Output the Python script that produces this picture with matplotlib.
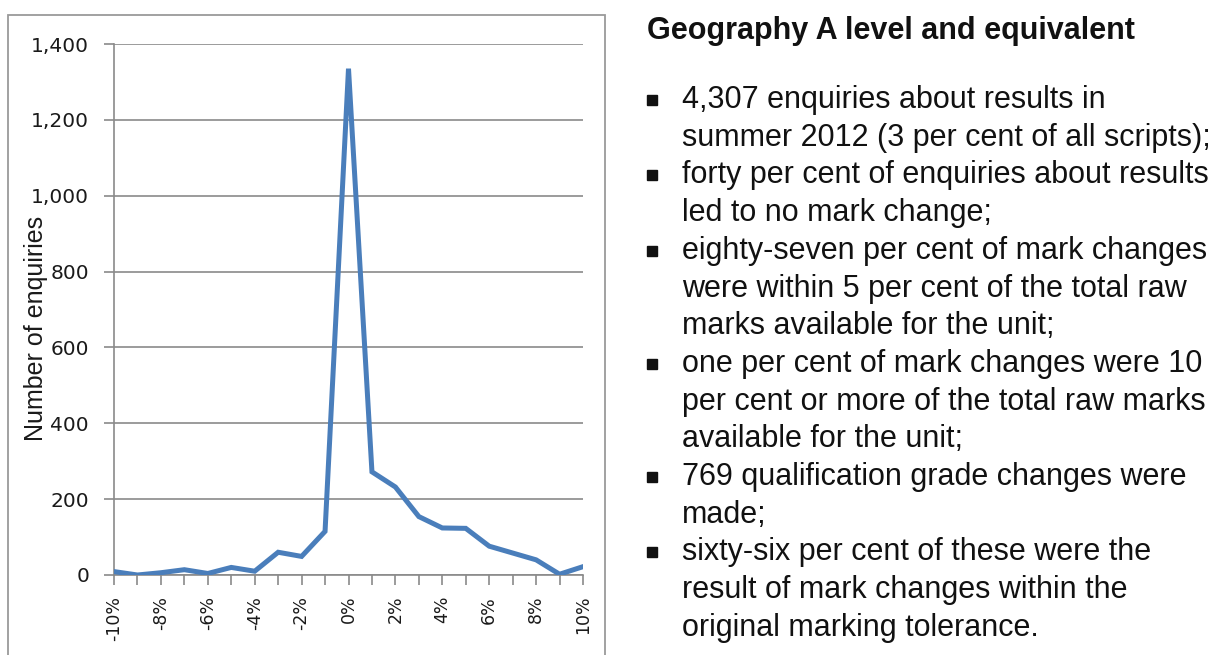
import numpy as np
import matplotlib.pyplot as plt
from matplotlib.patches import Rectangle

plt.rcParams['font.family'] = ['Liberation Sans', 'DejaVu Sans']

# ── Data ──────────────────────────────────────────────────────────────────────
change_pct = list(range(-10, 11))
enquiries = [9, 0, 6, 14, 4, 20, 10, 60, 49, 115, 1335, 272, 232,
             154, 124, 123, 76, 58, 40, 2, 22]
y_ticks = list(range(0, 1401, 200))

title = 'Geography A level and equivalent'
bullets = [
    ['4,307 enquiries about results in',
     'summer 2012 (3 per cent of all scripts);'],
    ['forty per cent of enquiries about results',
     'led to no mark change;'],
    ['eighty-seven per cent of mark changes',
     'were within 5 per cent of the total raw',
     'marks available for the unit;'],
    ['one per cent of mark changes were 10',
     'per cent or more of the total raw marks',
     'available for the unit;'],
    ['769 qualification grade changes were',
     'made;'],
    ['sixty-six per cent of these were the',
     'result of mark changes within the',
     'original marking tolerance.'],
]

W, H = 1217, 655
fig = plt.figure(figsize=(W / 100, H / 100), dpi=100)

# chart frame
fig.patches.append(Rectangle((8 / W, -0.05), 597 / W, 1 - 15 / H + 0.05,
                             transform=fig.transFigure, fill=False,
                             edgecolor='#9a9a9a', linewidth=1.3))

ax = fig.add_axes([114 / W, 1 - 575 / H, (583 - 114) / W, (575 - 44) / H])
ax.plot(change_pct, enquiries, color='#4a7ebb', linewidth=3.6,
        solid_joinstyle='miter', zorder=3)

ax.set_xlim(-10, 10)
ax.set_ylim(0, 1400)
ax.set_yticks(y_ticks)
ax.set_yticklabels([f'{v:,}' for v in y_ticks],
                   fontfamily='DejaVu Sans', fontsize=14.5)
ax.set_xticks(change_pct)
ax.set_xticklabels([f'{v}%' if v % 2 == 0 else '' for v in change_pct],
                   rotation=90, fontfamily='DejaVu Sans', fontsize=12.5)
ax.yaxis.grid(True, color='#8a8a8a', linewidth=1.2)
ax.set_axisbelow(True)
for s in ['top', 'right']:
    ax.spines[s].set_visible(False)
for s in ['left', 'bottom']:
    ax.spines[s].set_color('#8a8a8a')
    ax.spines[s].set_linewidth(1.2)
ax.tick_params(axis='both', colors='#8a8a8a', length=7, width=1.2,
               labelcolor='#1a1a1a')
ax.tick_params(axis='y', pad=11)
ax.tick_params(axis='x', pad=8)
ax.set_ylabel('Number of enquiries', fontsize=18, color='#1a1a1a')
ax.yaxis.set_label_coords(-0.141, 0.465)

# ── Right-hand text ───────────────────────────────────────────────────────────
fig.text(647 / W, 1 - 31 / H, title, fontsize=22, fontweight='bold',
         color='#111111', va='center', ha='left')

y = 100
for item in bullets:
    fig.patches.append(Rectangle((647 / W, 1 - (y + 5) / H), 10 / W, 10 / H,
                                 transform=fig.transFigure,
                                 color='#111111'))
    for line in item:
        fig.text(682 / W, 1 - y / H, line, fontsize=22, color='#111111',
                 va='center', ha='left')
        y += 37.7

fig.savefig('out.png', dpi=100)
